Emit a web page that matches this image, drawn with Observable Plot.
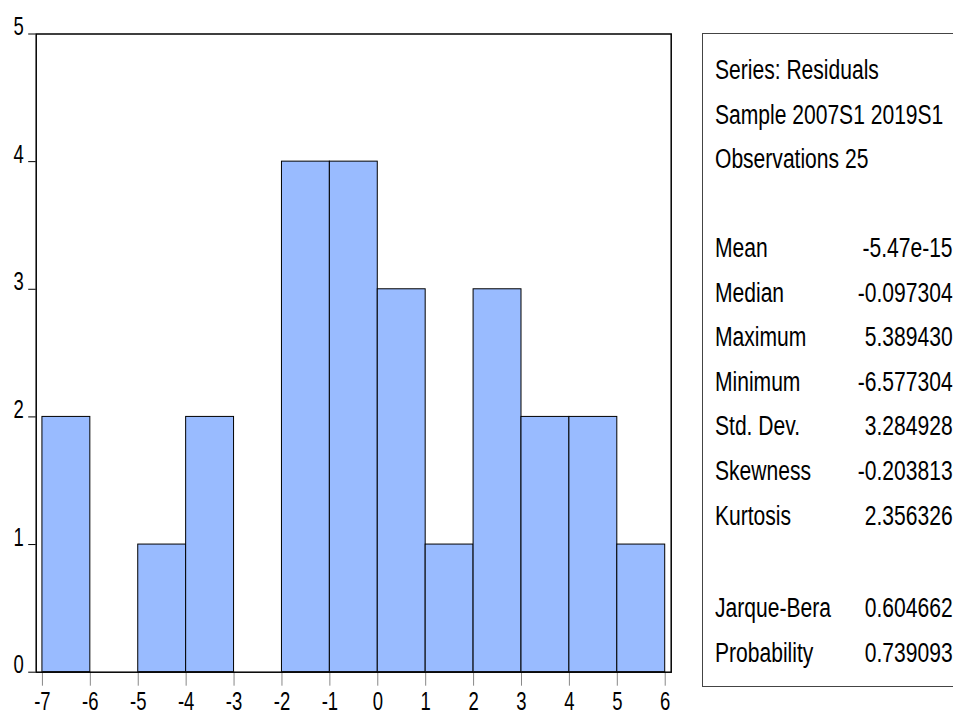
<!DOCTYPE html>
<html>
<head>
<meta charset="utf-8">
<script src="https://cdn.jsdelivr.net/npm/d3@7"></script>
<script src="https://cdn.jsdelivr.net/npm/@observablehq/plot@0.6"></script>
<style>
  html, body { margin: 0; padding: 0; background: #fff; }
  #wrap { position: relative; width: 953px; height: 715px; overflow: hidden; font-family: "Liberation Sans", Arial, sans-serif; }
  #stats { position: absolute; left: 702px; top: 33px; width: 280px; height: 654px; border: 1px solid #444; box-sizing: border-box; }
  .row { position: absolute; left: 12px; width: 238px; height: 30px; font-size: 27px; line-height: 30px; color: #000; white-space: nowrap; }
  .row .l { position: absolute; left: 0; top: 0; transform: scaleX(0.78); transform-origin: 0 50%; }
  .row .v { position: absolute; right: 0; top: 0; transform: scaleX(0.78); transform-origin: 100% 50%; }
</style>
</head>
<body>
<div id="wrap">
  <div id="chart"></div>
  <div id="stats"></div>
</div>
<script>
const binStart = [-7, -6, -5, -4, -3, -2, -1, 0, 1, 2, 3, 4, 5];
const counts   = [ 2,  0,  1,  2,  0,  4,  4, 3, 1, 3, 2, 2, 1];
const xTicks = [-7, -6, -5, -4, -3, -2, -1, 0, 1, 2, 3, 4, 5, 6];
const yTicks = [0, 1, 2, 3, 4, 5];
const headerLines = ["Series: Residuals", "Sample 2007S1 2019S1", "Observations 25"];
const statLabels = ["Mean", "Median", "Maximum", "Minimum", "Std. Dev.", "Skewness", "Kurtosis"];
const statValues = ["-5.47e-15", "-0.097304", "5.389430", "-6.577304", "3.284928", "-0.203813", "2.356326"];
const testLabels = ["Jarque-Bera", "Probability"];
const testValues = ["0.604662", "0.739093"];

const bins = binStart.map((s, i) => ({x1: s, x2: s + 1, y: counts[i]})).filter(d => d.y > 0);

const font = '"Liberation Sans", Arial, sans-serif';
const chart = Plot.plot({
  width: 700,
  height: 715,
  marginLeft: 35.7,
  marginTop: 33.5,
  marginBottom: 43.3,
  marginRight: 29.3,
  style: {fontFamily: font, fontSize: "25px", background: "transparent", color: "#000"},
  x: {domain: [-7.13, 6.125], label: null},
  y: {domain: [0, 5], label: null},
  marks: [
    Plot.rectY(bins, {x1: "x1", x2: "x2", y: "y", fill: "#99bbff", stroke: "#000", strokeWidth: 1}),
    Plot.axisX({ticks: xTicks, tickSize: 14, tickPadding: 6, stroke: "#888", fill: "#000", fontSize: 25, tickFormat: d => String(d), label: null}),
    Plot.axisY({ticks: yTicks, tickSize: 7.5, tickPadding: 5, stroke: "#000", fill: "#000", fontSize: 25, tickFormat: d => String(d), label: null}),
    Plot.frame({stroke: "#000", strokeWidth: 1.5})
  ]
});
document.getElementById("chart").appendChild(chart);

// condense tick label glyphs horizontally (narrow font look); lift y labels slightly above their ticks
const SX = 0.74;
chart.querySelectorAll("text").forEach(t => {
  const g = document.createElementNS("http://www.w3.org/2000/svg", "g");
  t.parentNode.insertBefore(g, t);
  g.appendChild(t);
  const bb = g.getBBox();
  const anchor = t.getAttribute("text-anchor") || t.parentNode.parentNode.getAttribute("text-anchor") || getComputedStyle(t).textAnchor;
  let ax = bb.x + bb.width / 2;
  let dy = 0;
  if (anchor === "end") { ax = bb.x + bb.width; dy = -7; }
  else if (anchor === "start") ax = bb.x;
  g.setAttribute("transform", `translate(${ax},${dy}) scale(${SX},1) translate(${-ax},0)`);
});

const stats = document.getElementById("stats");
function addRow(label, value, centerY) {
  const r = document.createElement("div");
  r.className = "row";
  r.style.top = (centerY - 33 - 15) + "px";
  const l = document.createElement("span");
  l.className = "l";
  l.textContent = label;
  r.appendChild(l);
  if (value != null) {
    const v = document.createElement("span");
    v.className = "v";
    v.textContent = value;
    r.appendChild(v);
  }
  stats.appendChild(r);
}
const step = 44.6;
headerLines.forEach((t, i) => addRow(t, null, 69 + i * step));
statLabels.forEach((t, i) => addRow(t, statValues[i], 247 + i * step));
testLabels.forEach((t, i) => addRow(t, testValues[i], 607 + i * step));
</script>
</body>
</html>
